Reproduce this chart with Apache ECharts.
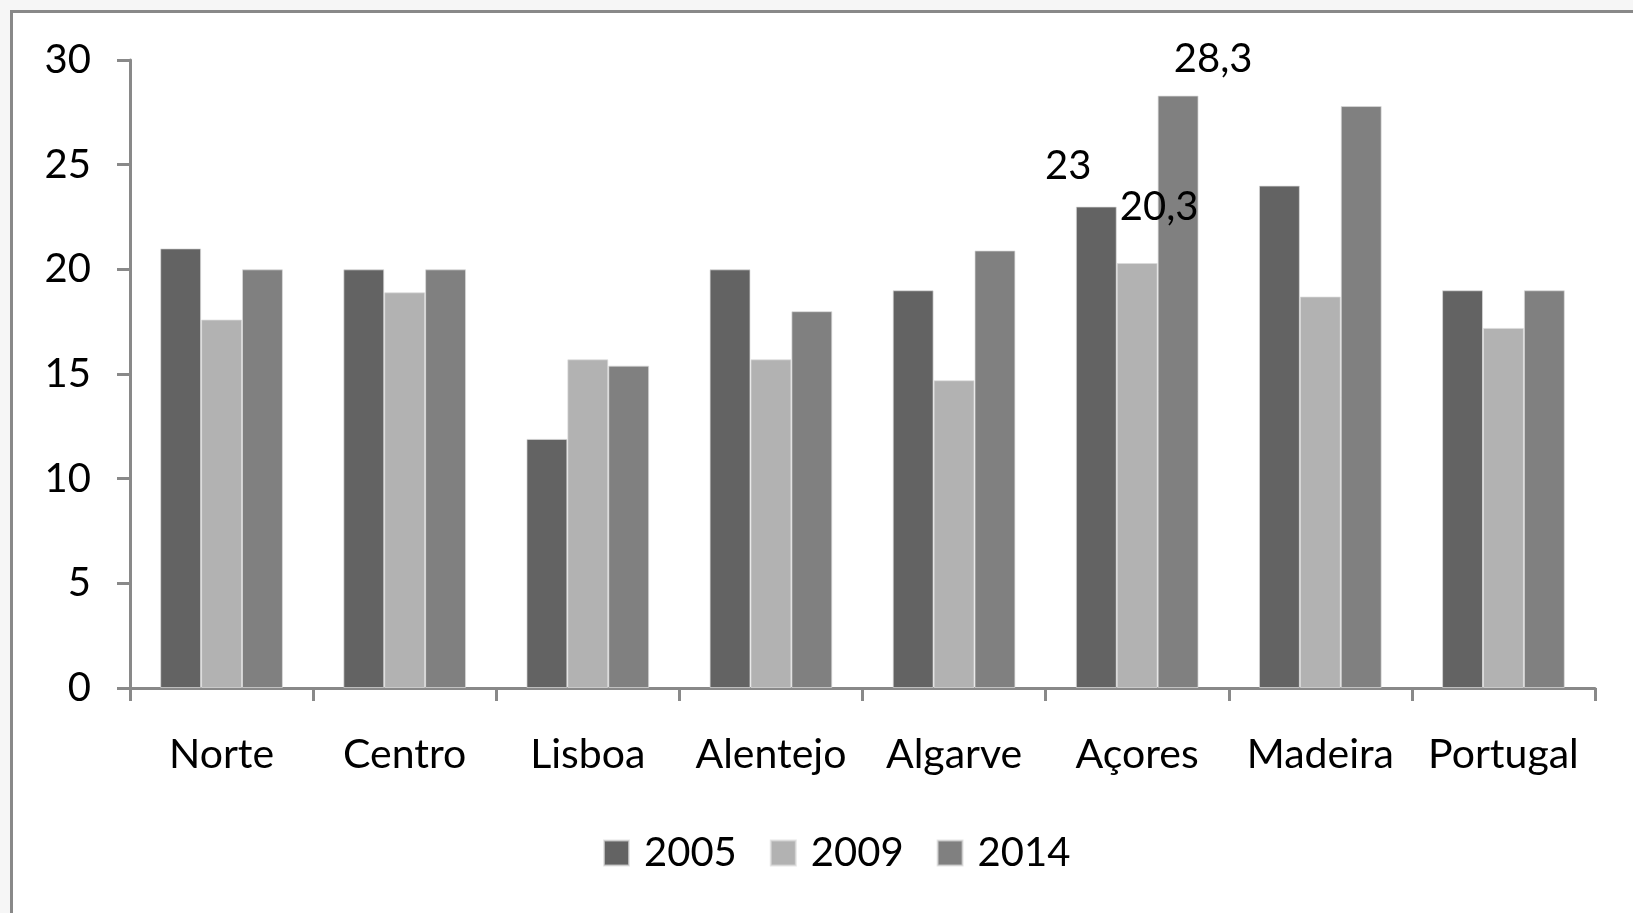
<!DOCTYPE html>
<html>
<head>
<meta charset="utf-8">
<script src="https://cdn.jsdelivr.net/npm/echarts@6/dist/echarts.min.js"></script>
<style>
  html, body { margin: 0; padding: 0; background: #f6f6f6; }
  #barChart { width: 1633px; height: 913px; }
</style>
</head>
<body>
<div id="barChart"></div>
<script>
var regions = ['Norte', 'Centro', 'Lisboa', 'Alentejo', 'Algarve', 'Açores', 'Madeira', 'Portugal'];
var years = ['2005', '2009', '2014'];
var values2005 = [21, 20, 11.9, 20, 19, 23, 24, 19];
var values2009 = [17.6, 18.9, 15.7, 15.7, 14.7, 20.3, 18.7, 17.2];
var values2014 = [20, 20, 15.4, 18, 20.9, 28.3, 27.8, 19];
var yTicks = [0, 5, 10, 15, 20, 25, 30];

// only the Açores bars carry a data label in the original
var labelledIndex = 5;
var labelOffsets = [[-28, -15], [22, -31], [35, -11]];

var font = 'Lato';
var axisGrey = '#898989';

function buildData(vals, k) {
  return vals.map(function (v, i) {
    if (i !== labelledIndex) return v;
    return {
      value: v,
      label: {
        show: true,
        position: 'top',
        offset: labelOffsets[k],
        color: '#000',
        fontFamily: font,
        fontSize: 40,
        formatter: function (p) { return String(p.value).replace('.', ','); }
      }
    };
  });
}

var chart = echarts.init(document.getElementById('barChart'));
chart.setOption({
  backgroundColor: 'transparent',
  animation: false,
  graphic: [{
    type: 'rect',
    z: -10,
    shape: { x: 11.5, y: 11.5, width: 1800, height: 1000 },
    style: { fill: '#fff', stroke: axisGrey, lineWidth: 3 }
  }],
  color: ['#636363', '#b2b2b2', '#808080'],
  grid: { left: 130, right: 38, top: 60, bottom: 225 },
  legend: {
    data: years,
    left: 598,
    top: 828,
    itemWidth: 25,
    itemHeight: 25,
    itemGap: 33,
    icon: 'rect',
    textStyle: { fontFamily: font, fontSize: 40, color: '#000', padding: [0, 0, 0, 10] }
  },
  xAxis: {
    type: 'category',
    data: regions,
    axisLine: { lineStyle: { color: axisGrey, width: 3 } },
    axisTick: { show: true, length: 13, lineStyle: { color: axisGrey, width: 3 } },
    axisLabel: { fontFamily: font, fontSize: 41, color: '#000', margin: 46, interval: 0 }
  },
  yAxis: {
    type: 'value',
    min: yTicks[0],
    max: yTicks[yTicks.length - 1],
    interval: 5,
    splitLine: { show: false },
    axisLine: { show: true, lineStyle: { color: axisGrey, width: 3 } },
    axisTick: { show: true, length: 13, lineStyle: { color: axisGrey, width: 3 } },
    axisLabel: { fontFamily: font, fontSize: 40, color: '#000', margin: 39 }
  },
  series: [
    { name: years[0], type: 'bar', barGap: '0%', barCategoryGap: '33%', data: buildData(values2005, 0),
      itemStyle: { borderColor: 'rgba(220,220,220,0.7)', borderWidth: 1 } },
    { name: years[1], type: 'bar', barGap: '0%', barCategoryGap: '33%', data: buildData(values2009, 1),
      itemStyle: { borderColor: 'rgba(220,220,220,0.7)', borderWidth: 1 } },
    { name: years[2], type: 'bar', barGap: '0%', barCategoryGap: '33%', data: buildData(values2014, 2),
      itemStyle: { borderColor: 'rgba(220,220,220,0.7)', borderWidth: 1 } }
  ]
});
</script>
</body>
</html>
